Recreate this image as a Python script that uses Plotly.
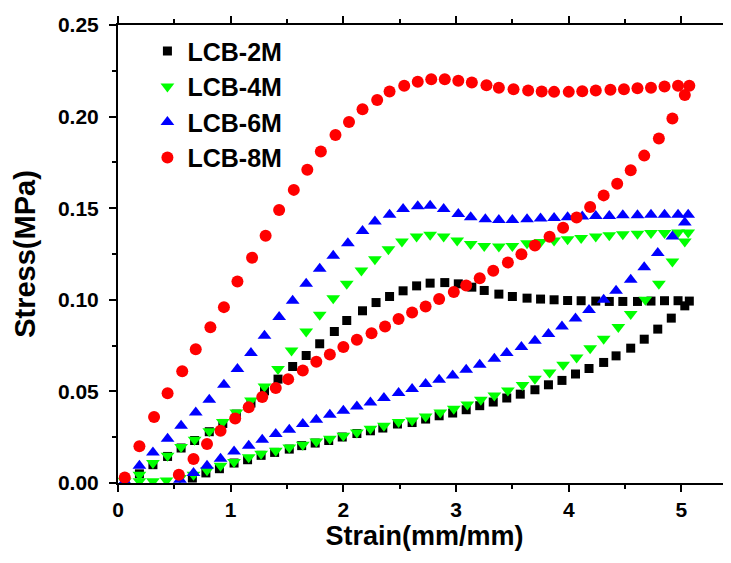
import plotly.graph_objects as go

# ---------------- data ----------------
series_names = ["LCB-2M", "LCB-4M", "LCB-6M", "LCB-8M"]

# LCB-2M
strain_2m_load = [0.06, 0.19, 0.31, 0.44, 0.56, 0.68, 0.81, 0.93, 1.05, 1.18, 1.30, 1.42, 1.55, 1.67,
                  1.79, 1.92, 2.03, 2.17, 2.29, 2.41, 2.53, 2.65, 2.77, 2.90, 3.02, 3.14, 3.25, 3.38,
                  3.50, 3.63, 3.75, 3.87, 3.99, 4.11, 4.24, 4.36, 4.48, 4.61, 4.73, 4.85, 4.97, 5.07]
stress_2m_load = [0.001, 0.005, 0.010, 0.0145, 0.0191, 0.0232, 0.028, 0.0325, 0.0376, 0.0436, 0.0503,
                  0.0567, 0.0636, 0.0696, 0.076, 0.0827, 0.0887, 0.094, 0.0985, 0.1018, 0.1049, 0.1076,
                  0.1091, 0.1094, 0.1087, 0.1069, 0.1051, 0.1031, 0.1018, 0.1009, 0.1004, 0.1, 0.0996,
                  0.0995, 0.0993, 0.0991, 0.0991, 0.0991, 0.0993, 0.0995, 0.0995, 0.0993]
strain_2m_unload = [5.03, 4.91, 4.79, 4.67, 4.55, 4.42, 4.31, 4.18, 4.06, 3.94, 3.82, 3.70, 3.57, 3.45,
                    3.33, 3.21, 3.09, 2.97, 2.85, 2.73, 2.61, 2.48, 2.35, 2.24, 2.12, 1.99, 1.87, 1.75,
                    1.63, 1.52, 1.39, 1.27, 1.15, 1.03, 0.90, 0.78, 0.66]
stress_2m_unload = [0.0967, 0.09, 0.084, 0.0785, 0.0736, 0.0694, 0.0658, 0.0625, 0.0595, 0.056, 0.0536,
                    0.0509, 0.0485, 0.0464, 0.0442, 0.0422, 0.04, 0.0382, 0.0367, 0.0349, 0.033, 0.0322,
                    0.03, 0.0285, 0.027, 0.0251, 0.0232, 0.0218, 0.0204, 0.0185, 0.0167, 0.0151, 0.0127,
                    0.0109, 0.0078, 0.0055, 0.0027]

# LCB-4M
strain_4m_load = [0.06, 0.19, 0.31, 0.44, 0.56, 0.68, 0.81, 0.93, 1.05, 1.18, 1.30, 1.42, 1.54, 1.67,
                  1.79, 1.91, 2.03, 2.16, 2.28, 2.40, 2.52, 2.65, 2.77, 2.89, 3.01, 3.13, 3.25, 3.38,
                  3.50, 3.63, 3.75, 3.87, 3.99, 4.11, 4.24, 4.36, 4.48, 4.61, 4.73, 4.85, 4.97, 5.06]
stress_4m_load = [0.001, 0.0045, 0.0109, 0.0149, 0.0196, 0.0236, 0.0282, 0.0333, 0.0385, 0.0451, 0.0527,
                  0.0622, 0.0723, 0.0827, 0.0918, 0.1009, 0.1087, 0.116, 0.1222, 0.1276, 0.1318, 0.1345,
                  0.1355, 0.1345, 0.1324, 0.1305, 0.1294, 0.1291, 0.1293, 0.1309, 0.1316, 0.1324, 0.133,
                  0.1338, 0.1345, 0.1353, 0.1358, 0.136, 0.1364, 0.1364, 0.1367, 0.1367]
strain_4m_unload = [5.03, 4.92, 4.80, 4.68, 4.55, 4.44, 4.31, 4.19, 4.07, 3.95, 3.83, 3.70, 3.59, 3.46,
                    3.34, 3.22, 3.10, 2.98, 2.86, 2.73, 2.61, 2.49, 2.36, 2.24, 2.12, 2.00, 1.88, 1.76,
                    1.64, 1.52, 1.40, 1.27, 1.16, 1.03, 0.91, 0.79, 0.67, 0.55, 0.43, 0.31, 0.19]
stress_4m_unload = [0.1318, 0.1209, 0.1087, 0.1, 0.0922, 0.0851, 0.0787, 0.0736, 0.0685, 0.0645, 0.0603,
                    0.0569, 0.0535, 0.0505, 0.0478, 0.0454, 0.0429, 0.0405, 0.0385, 0.0363, 0.0341, 0.0333,
                    0.0312, 0.0296, 0.0276, 0.0258, 0.0242, 0.0227, 0.0209, 0.0194, 0.0176, 0.016, 0.014,
                    0.0115, 0.0094, 0.0069, 0.0045, 0.0027, 0.0014, 0.001, 0.001]

# LCB-6M
strain_6m_load = [0.06, 0.19, 0.31, 0.44, 0.56, 0.69, 0.81, 0.94, 1.06, 1.18, 1.30, 1.43, 1.55, 1.67,
                  1.79, 1.91, 2.04, 2.17, 2.28, 2.41, 2.53, 2.66, 2.77, 2.89, 3.02, 3.13, 3.26, 3.38,
                  3.50, 3.63, 3.75, 3.87, 3.99, 4.12, 4.24, 4.36, 4.48, 4.61, 4.73, 4.85, 4.97, 5.06]
stress_6m_load = [0.001, 0.0094, 0.0167, 0.0242, 0.0313, 0.0385, 0.0454, 0.0536, 0.0622, 0.0709, 0.0804,
                  0.0906, 0.0995, 0.1087, 0.1169, 0.124, 0.1309, 0.1375, 0.1427, 0.1464, 0.1495, 0.1511,
                  0.1513, 0.1495, 0.1469, 0.1451, 0.144, 0.1436, 0.1436, 0.144, 0.1444, 0.1446, 0.1451,
                  0.1455, 0.1458, 0.1458, 0.1462, 0.1462, 0.1464, 0.1464, 0.1464, 0.1464]
strain_6m_unload = [5.03, 4.92, 4.79, 4.67, 4.55, 4.42, 4.31, 4.18, 4.06, 3.94, 3.82, 3.70, 3.58, 3.45,
                    3.34, 3.21, 3.09, 2.97, 2.85, 2.73, 2.61, 2.49, 2.36, 2.24, 2.12, 2.00, 1.88, 1.76,
                    1.64, 1.52, 1.40, 1.28, 1.16, 1.03, 0.91, 0.79, 0.67, 0.55]
stress_6m_unload = [0.1422, 0.1345, 0.1255, 0.1178, 0.1109, 0.1049, 0.1, 0.0945, 0.0898, 0.0854, 0.0813,
                    0.0776, 0.0742, 0.0709, 0.0678, 0.0645, 0.0618, 0.0587, 0.0563, 0.054, 0.0513, 0.0491,
                    0.0464, 0.044, 0.0418, 0.0394, 0.0372, 0.0345, 0.0322, 0.0291, 0.0267, 0.0236, 0.0203,
                    0.0172, 0.0132, 0.0094, 0.0055, 0.0018]

# LCB-8M
strain_8m_load = [0.06, 0.19, 0.32, 0.44, 0.57, 0.69, 0.82, 0.94, 1.06, 1.19, 1.31, 1.43, 1.56, 1.68,
                  1.80, 1.93, 2.05, 2.17, 2.30, 2.41, 2.54, 2.66, 2.78, 2.90, 3.02, 3.14, 3.27, 3.38,
                  3.51, 3.64, 3.76, 3.87, 4.00, 4.12, 4.24, 4.37, 4.49, 4.61, 4.73, 4.85, 4.97, 5.07]
stress_8m_load = [0.003, 0.020, 0.036, 0.049, 0.061, 0.073, 0.085, 0.096, 0.110, 0.123, 0.135, 0.149,
                  0.160, 0.171, 0.181, 0.190, 0.197, 0.204, 0.209, 0.2137, 0.2168, 0.219, 0.2204, 0.2204,
                  0.2196, 0.2186, 0.2171, 0.2157, 0.2149, 0.2142, 0.2137, 0.2135, 0.2135, 0.2139, 0.2142,
                  0.2146, 0.2149, 0.2155, 0.2158, 0.2164, 0.2168, 0.2168]
strain_8m_unload = [5.03, 4.92, 4.80, 4.67, 4.55, 4.43, 4.31, 4.19, 4.07, 3.95, 3.83, 3.70, 3.58, 3.46,
                    3.33, 3.21, 3.09, 2.98, 2.85, 2.73, 2.61, 2.49, 2.37, 2.25, 2.12, 2.00, 1.88, 1.76,
                    1.64, 1.51, 1.40, 1.28, 1.16, 1.04, 0.91, 0.79, 0.67, 0.54]
stress_8m_unload = [0.2118, 0.199, 0.188, 0.1787, 0.1707, 0.1634, 0.157, 0.1506, 0.1449, 0.1393, 0.1344,
                    0.1296, 0.1249, 0.1203, 0.1158, 0.1118, 0.1078, 0.1042, 0.1004, 0.0963, 0.0931, 0.0895,
                    0.0854, 0.0818, 0.0782, 0.0742, 0.0702, 0.0662, 0.0614, 0.0567, 0.0518, 0.0469, 0.0414,
                    0.0352, 0.0285, 0.0213, 0.0131, 0.0045]

x_tick_vals = [0, 1, 2, 3, 4, 5]
y_tick_vals = [0.00, 0.05, 0.10, 0.15, 0.20, 0.25]
y_tick_text = ["0.00", "0.05", "0.10", "0.15", "0.20", "0.25"]

# ---------------- figure ----------------
pairs = [
    (strain_2m_load + strain_2m_unload, stress_2m_load + stress_2m_unload),
    (strain_4m_load + strain_4m_unload, stress_4m_load + stress_4m_unload),
    (strain_6m_load + strain_6m_unload, stress_6m_load + stress_6m_unload),
    (strain_8m_load + strain_8m_unload, stress_8m_load + stress_8m_unload),
]
for xs, ys in pairs:
    if len(xs) != len(ys):
        raise ValueError("length mismatch %d %d" % (len(xs), len(ys)))

styles = [
    dict(symbol="square", color="#000000", size=9),
    dict(symbol="triangle-down", color="#00FF00", size=12),
    dict(symbol="triangle-up", color="#0000FF", size=12),
    dict(symbol="circle", color="#FF0000", size=12),
]

FONT = "Liberation Sans, Arial, sans-serif"

fig = go.Figure()
for name, (xs, ys), st in zip(series_names, pairs, styles):
    fig.add_trace(go.Scatter(
        x=xs, y=ys, mode="markers", name=name,
        marker=dict(symbol=st["symbol"], color=st["color"], size=st["size"], line=dict(width=0)),
    ))

# the page body has an 8px default margin, so the figure is offset accordingly
fig.update_layout(
    width=731, height=555,
    margin=dict(l=110, r=8, t=17, b=80),
    paper_bgcolor="white", plot_bgcolor="white",
    font=dict(family=FONT, color="black"),
    showlegend=True,
    legend=dict(
        x=0.048, y=0.993, xanchor="left", yanchor="top",
        bgcolor="rgba(0,0,0,0)", borderwidth=0,
        font=dict(family=FONT, size=25, color="black", weight="bold"),
        itemwidth=30, tracegroupgap=0,
    ),
    xaxis=dict(
        range=[0, 5.44], showgrid=False, zeroline=False, automargin=False,
        showline=True, linecolor="black", linewidth=2, mirror="ticks",
        ticks="outside", ticklen=7, tickwidth=2, tickcolor="black",
        tickvals=x_tick_vals,
        tickfont=dict(family=FONT, size=21, color="black", weight="bold"),
        minor=dict(dtick=0.5, ticks="outside", ticklen=4, tickwidth=2, tickcolor="black"),
        title=dict(text="Strain(mm/mm)", standoff=4,
                   font=dict(family=FONT, size=27, color="black", weight="bold")),
    ),
    yaxis=dict(
        range=[0, 0.25], showgrid=False, zeroline=False, automargin=False,
        showline=True, linecolor="black", linewidth=2, mirror=False,
        ticks="outside", ticklen=7, tickwidth=2, tickcolor="black",
        tickvals=y_tick_vals, ticktext=y_tick_text, ticklabelstandoff=6,
        tickfont=dict(family=FONT, size=21, color="black", weight="bold"),
        minor=dict(dtick=0.025, ticks="outside", ticklen=4, tickwidth=2, tickcolor="black"),
        title=dict(text="Stress(MPa)", standoff=14,
                   font=dict(family=FONT, size=29, color="black", weight="bold")),
    ),
)

fig.write_html("out.html")
